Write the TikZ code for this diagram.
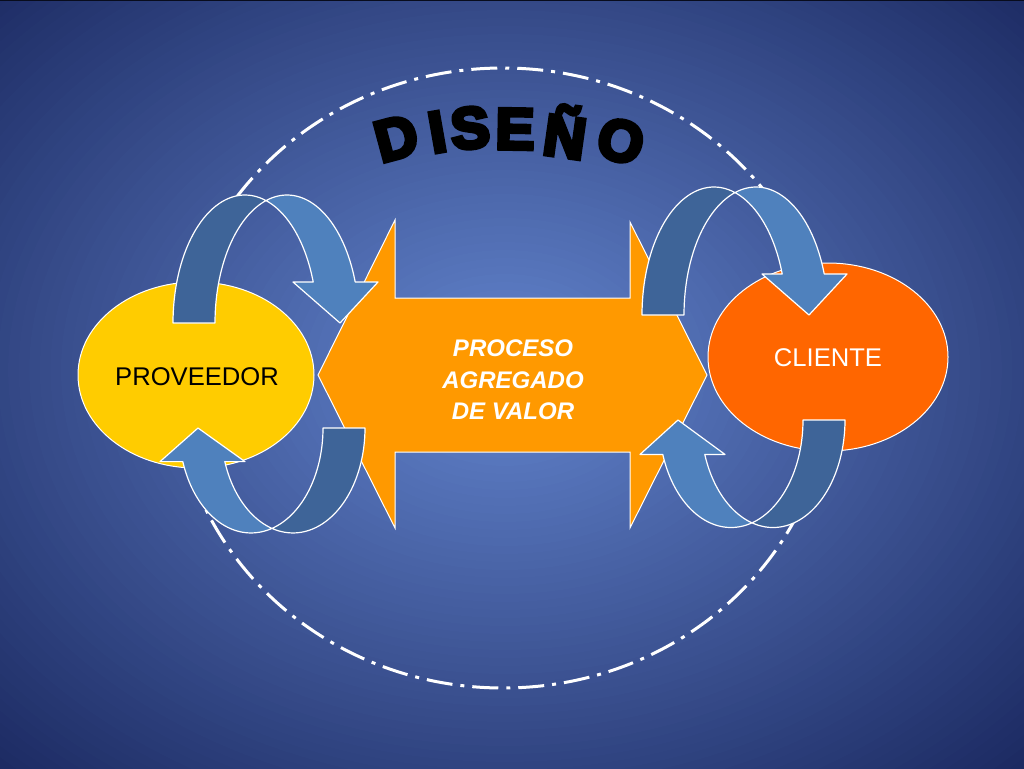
\documentclass[tikz,border=0pt]{standalone}
\usepackage{fontspec}
\setmainfont{Liberation Sans}
\newfontfamily\heavyfont{Liberation Sans}[BoldFeatures={FakeBold=7}]
\definecolor{bgin}{RGB}{94,126,198}
\definecolor{bgout}{RGB}{28,42,98}
\definecolor{darkband}{RGB}{62,100,152}
\definecolor{lightband}{RGB}{79,129,189}
\definecolor{proc}{RGB}{255,153,0}
\definecolor{prov}{RGB}{255,204,0}
\definecolor{cli}{RGB}{255,102,0}
\tikzset{
  darkpart/.style={fill=darkband, draw=white, line width=1.2pt, line join=round},
  lightpart/.style={fill=lightband, draw=white, line width=1.2pt, line join=round},
  letter/.style={font=\heavyfont\bfseries\fontsize{58}{58}\selectfont, text=black, inner sep=0pt, text height=42pt, text depth=0pt},
  lbl/.style={font=\fontsize{25.6}{30}\selectfont, inner sep=0pt},
  blob/.style={draw=white, line width=1pt}
}
\newcommand{\roundarrow}{%
  \filldraw[darkpart] (0,0) -- plot[domain=180:73.04, samples=40] ({72+72*cos(\x)},{128*sin(\x)}) -- plot[domain=106.96:180, samples=40] ({114+72*cos(\x)},{128*sin(\x)}) -- cycle;
  \filldraw[lightpart] (93,122.4) -- plot[domain=106.96:18.68, samples=40] ({114+72*cos(\x)},{128*sin(\x)}) -- (205,41) -- (167,0) -- (120,41) -- plot[domain=18.68:73.04, samples=40] ({72+72*cos(\x)},{128*sin(\x)}) -- cycle;
}
\begin{document}
\begin{tikzpicture}[x=1pt,y=-1pt]
\useasboundingbox (0,0) rectangle (1024,768);
\begin{scope}
\clip (0,0) rectangle (1024,768);
\fill[bgout] (0,0) rectangle (1024,768);
\foreach \i in {0,...,69}{
  \pgfmathsetmacro{\rr}{1-\i/70}
  \pgfmathsetmacro{\pp}{max(0,min(100,(\rr-0.08)/0.92*100))}
  \fill[bgout!\pp!bgin] (505,370) ellipse [x radius={740*\rr}, y radius={560*\rr}];
}
\end{scope}
\draw[black!70!bgout, line width=1.5pt] (0,0.75) -- (1024,0.75);
% dashed ring
\draw[white, line width=3pt, dash pattern=on 26pt off 8pt on 4pt off 8pt] (503,378) ellipse [x radius=328, y radius=310];
% central double arrow
\filldraw[fill=proc, blob] (318,375) -- (395,220) -- (395,298) -- (630,298) -- (630,222) -- (707,375) -- (630,528) -- (630,452) -- (395,452) -- (395,528) -- cycle;
\node[font=\bfseries\itshape\fontsize{24}{31.5}\selectfont, text=white, align=center, inner sep=0pt] (proceso) at (513,380) {PROCESO\\AGREGADO\\DE VALOR};
% ellipses
\filldraw[fill=prov, blob] (196,375) ellipse [x radius=118, y radius=93];
\node[lbl, text=black] (proveedor) at (197,377) {PROVEEDOR};
\filldraw[fill=cli, blob] (828,357) ellipse [x radius=120, y radius=94];
\node[lbl, text=white] (cliente) at (828,358) {CLIENTE};
% curved arrows
\begin{scope}[shift={(173,323)}, yscale=-1]\roundarrow\end{scope}
\begin{scope}[shift={(642,315)}, yscale=-1]\roundarrow\end{scope}
\begin{scope}[shift={(365,428)}, xscale=-1, yscale=0.82]\roundarrow\end{scope}
\begin{scope}[shift={(845,420)}, xscale=-1, yscale=0.84]\roundarrow\end{scope}
% title
\node[letter, rotate=15] (tD) at (396,137) {D};
\node[letter, rotate=10] (tI) at (437,131) {I};
\node[letter, rotate=5] (tS) at (470,127) {S};
\node[letter, rotate=-1] (tE) at (515,128) {E};
\node[letter, rotate=-8] (tN) at (565,136) {Ñ};
\node[letter, rotate=-15] (tO) at (621,140) {O};
\end{tikzpicture}
\end{document}
